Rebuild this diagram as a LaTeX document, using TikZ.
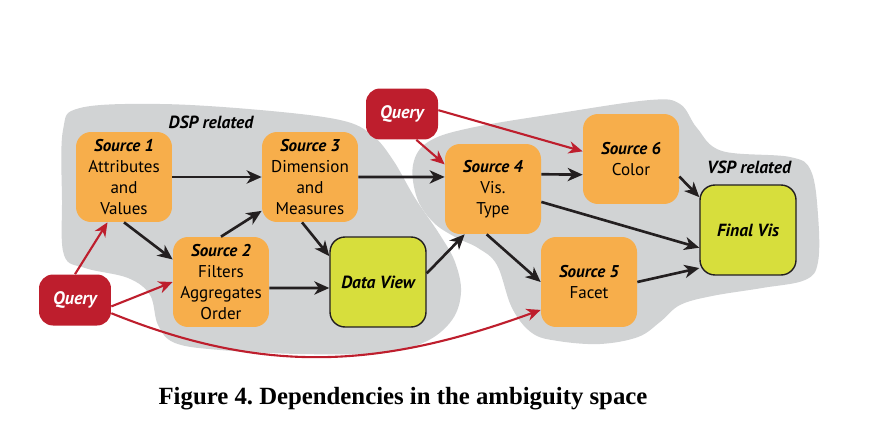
\documentclass[tikz,border=0pt]{standalone}
\usepackage{fontspec}
\setmainfont{PT Sans}
\newfontfamily\capfont{Liberation Serif}
\usetikzlibrary{arrows.meta}
\definecolor{srcorange}{RGB}{247,174,75}
\definecolor{qryred}{RGB}{190,30,45}
\definecolor{visgreen}{RGB}{215,222,60}
\definecolor{blobgray}{RGB}{209,211,212}
\definecolor{inkdark}{RGB}{35,31,32}
\tikzset{
  src/.style={fill=srcorange, rounded corners=0.3cm, minimum width=1.92cm, minimum height=1.8cm,
    inner sep=0pt, align=center, font=\fontsize{9.7}{11.95}\selectfont},
  visbox/.style={src, fill=visgreen, draw=inkdark, line width=0.8pt, font=\fontsize{10}{11.95}\selectfont\bfseries\itshape},
  qry/.style={fill=qryred, rounded corners=0.28cm, minimum width=1.44cm, minimum height=1.02cm,
    inner sep=0pt, text=white, font=\fontsize{10.3}{11}\selectfont\bfseries\itshape},
  dep/.style={draw=inkdark, line width=1.5pt, -{Stealth[length=8.5pt,width=7.5pt,inset=2.5pt]}},
  qdep/.style={draw=qryred, line width=1.2pt, -{Stealth[length=8pt,width=7pt,inset=2.5pt]}},
  blob/.style={fill=blobgray},
  tag/.style={font=\fontsize{10}{11.95}\selectfont\bfseries\itshape}
}
\newcommand{\hd}[1]{\textbf{\textit{#1}}}
\begin{document}
\frenchspacing
\begin{tikzpicture}[x=0.02cm,y=-0.02cm]
  \useasboundingbox (0,0) rectangle (884,436);
  % grey regions
  \fill[blob] plot[smooth cycle, tension=0.6] coordinates {(62,200) (63,130) (80,108) (160,104) (260,110) (340,120)
    (372,135) (393,160) (415,198) (440,235) (455,262) (461,292) (452,320) (425,342) (380,353) (300,354)
    (220,350) (175,343) (158,325) (150,295) (128,278) (85,268) (64,255)};
  \fill[blob] plot[smooth cycle, tension=0.6] coordinates {(413,165) (428,142) (470,128) (560,113) (650,100) (680,104)
    (697,128) (722,151) (790,157) (811,171) (818,215) (818,262) (805,280) (762,288) (712,296) (680,305)
    (660,322) (638,337) (600,344) (558,341) (532,333) (512,308) (497,265) (478,248) (455,237) (433,222) (417,198)};
  \node[tag] (dsp) at (211,122) {DSP related};
  \node[tag] (vsp) at (749,167) {VSP related};
  % sources
  \node[src] (s1) at (124,177) {\hd{Source 1}\\Attributes\\and\\Values};
  \node[src] (s3) at (310,177) {\hd{Source 3}\\Dimension\\and\\Measures};
  \node[src] (s2) at (221,282) {\hd{Source 2}\\Filters\\Aggregates\\Order};
  \node[visbox] (dv) at (378,282) {Data View};
  \node[src] (s4) at (493,189) {\hd{Source 4}\\Vis.\\Type};
  \node[src] (s6) at (631,159) {\hd{Source 6}\\Color};
  \node[src] (s5) at (589,282) {\hd{Source 5}\\Facet};
  \node[visbox] (fv) at (748,230) {Final Vis};
  \node[qry] (ql) at (75,300) {Query};
  \node[qry] (qt) at (402,114) {Query};
  % dependencies
  \draw[dep] (s1.east) -- (s3.west);
  \draw[dep] (s1.south) -- (s2.155);
  \draw[dep] (s2.north) -- (s3.215);
  \draw[dep] (s3.260) -- (dv.152);
  \draw[dep] (s2.-7) -- (dv.187);
  \draw[dep] (s3.east) -- (s4.166);
  \draw[dep] (dv.10) -- (s4.238);
  \draw[dep] (s4.17) -- (s6.198);
  \draw[dep] (s4.-15) -- (fv.200);
  \draw[dep] (s4.262) -- (s5.west);
  \draw[dep] (s5.east) -- (fv.218);
  \draw[dep] (s6.-20) -- (fv.146);
  % query inputs
  \draw[qdep] (ql.north) -- (s1.250);
  \draw[qdep] (ql.-10) -- (s2.west);
  \draw[qdep] (ql.-20) to[out=-22,in=200] (s5.210);
  \draw[qdep] (qt.-61) -- (s4.153);
  \draw[qdep] (qt.6) -- (s6.171);
  \node[font=\capfont\fontsize{14.1}{16}\selectfont\bfseries, anchor=base] (cap) at (403,404)
    {Figure 4. Dependencies in the ambiguity space};
\end{tikzpicture}
\end{document}
